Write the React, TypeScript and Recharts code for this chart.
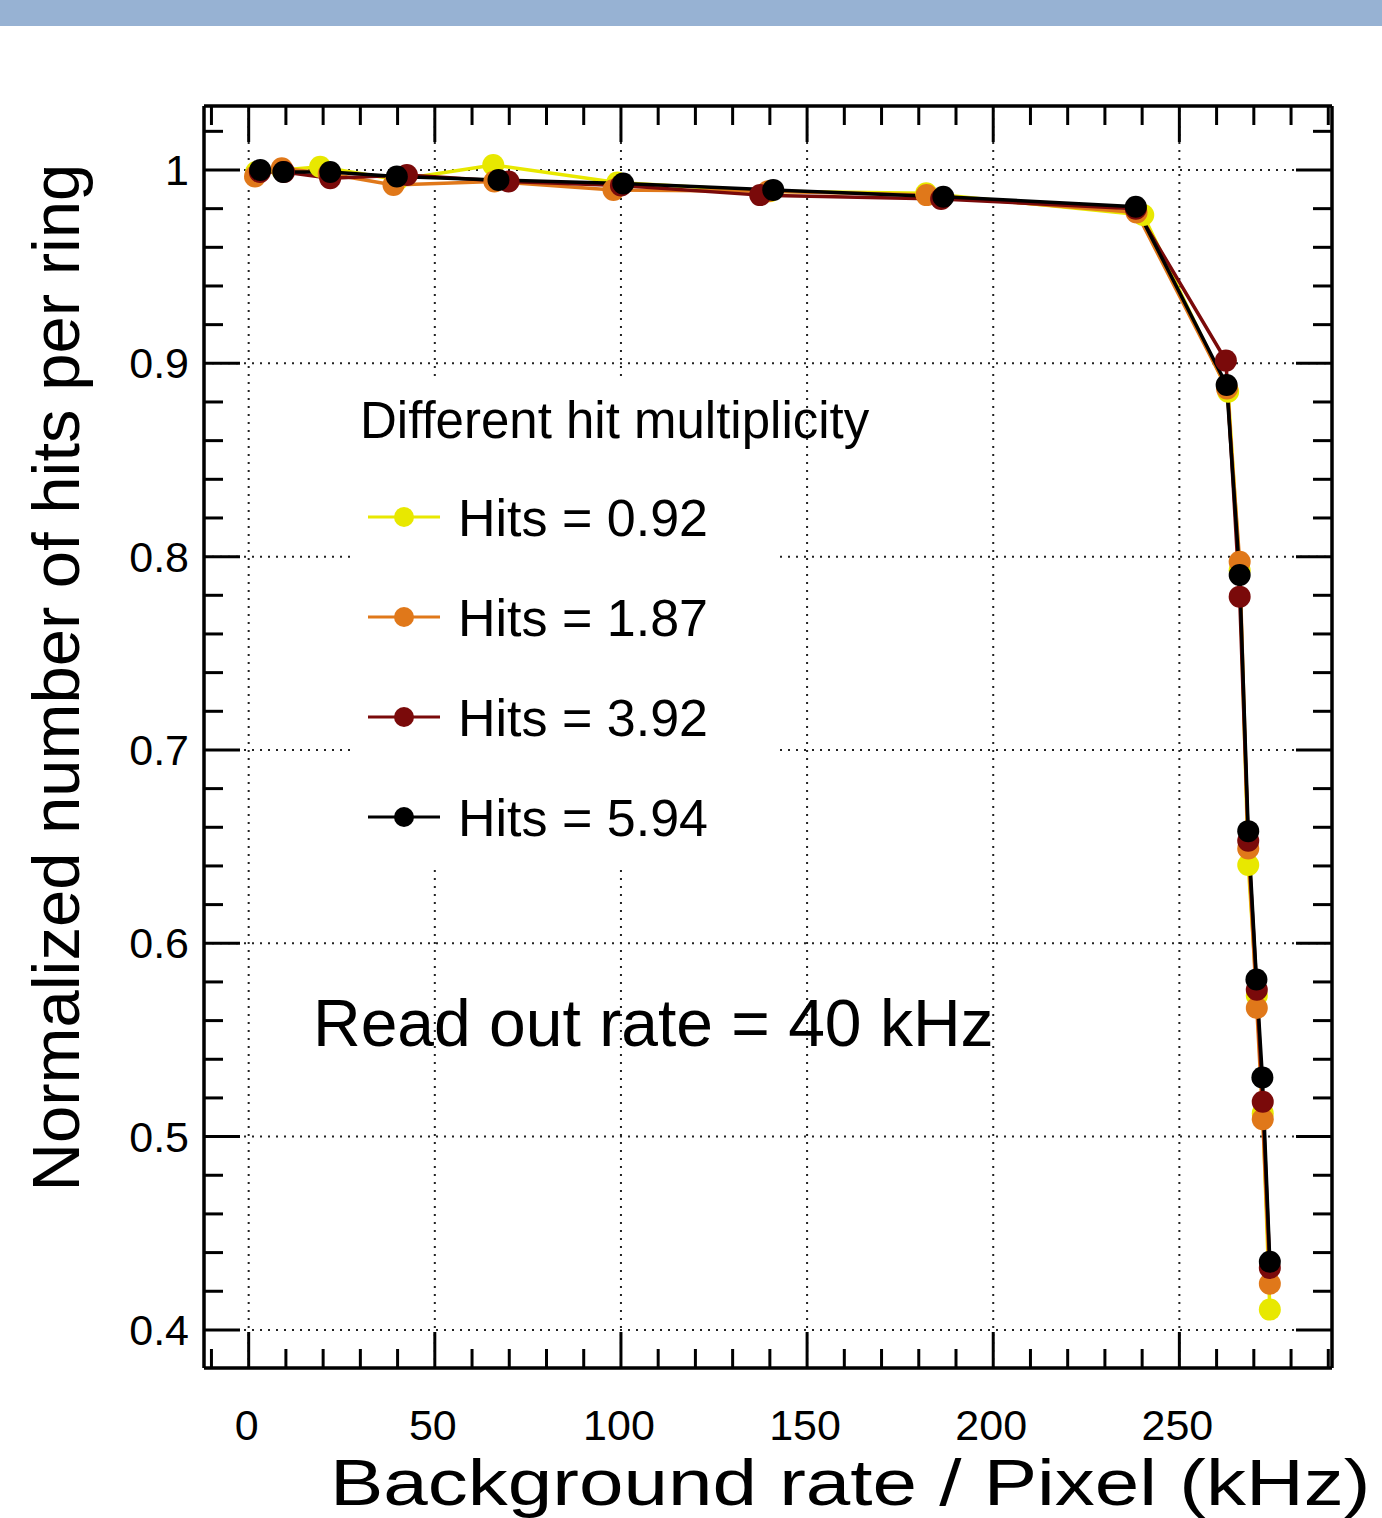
import React from 'react';
import { LineChart, Line, XAxis, YAxis, ReferenceLine, Legend } from 'recharts';

const FONT = '"Liberation Sans", Arial, Helvetica, sans-serif';

// ---- axis ticks ----
const xTicks = [-10, 0, 10, 20, 30, 40, 50, 60, 70, 80, 90, 100, 110, 120, 130, 140, 150, 160, 170, 180, 190, 200, 210, 220, 230, 240, 250, 260, 270, 280, 290];
const xMajor = [0, 50, 100, 150, 200, 250];
const yTicks = [0.4, 0.42, 0.44, 0.46, 0.48, 0.5, 0.52, 0.54, 0.56, 0.58, 0.6, 0.62, 0.64, 0.66, 0.68, 0.7, 0.72, 0.74, 0.76, 0.78, 0.8, 0.82, 0.84, 0.86, 0.88, 0.9, 0.92, 0.94, 0.96, 0.98, 1.0, 1.02];
const yMajor = [0.4, 0.5, 0.6, 0.7, 0.8, 0.9, 1.0];
const yMajorLabels = ['0.4', '0.5', '0.6', '0.7', '0.8', '0.9', '1'];
const xDomain = [-12, 291];
const yDomain = [0.3803, 1.0331];

// ---- series ----
const seriesNames = ['Hits = 0.92', 'Hits = 1.87', 'Hits = 3.92', 'Hits = 5.94'];
const seriesColors = ['#e8e800', '#e0781a', '#7a0a0a', '#000000'];

const xHits092 = [2.0, 9.0, 19.2, 40.0, 65.7, 99.0, 140.0, 182.0, 240.3, 263.1, 266.2, 268.5, 270.8, 272.4, 274.3];
const yHits092 = [0.999, 1.0, 1.0017, 0.995, 1.0026, 0.9935, 0.989, 0.988, 0.9767, 0.8853, 0.793, 0.6405, 0.573, 0.512, 0.4105];

const xHits187 = [1.7, 8.9, 21.5, 38.9, 66.0, 98.0, 139.5, 182.1, 238.5, 262.8, 266.2, 268.5, 270.8, 272.4, 274.3];
const yHits187 = [0.9966, 1.0009, 0.998, 0.9922, 0.994, 0.9897, 0.989, 0.987, 0.978, 0.887, 0.7974, 0.649, 0.5665, 0.509, 0.4239];

const xHits392 = [3.0, 9.5, 21.9, 42.5, 69.8, 100.0, 137.4, 186.0, 238.3, 262.5, 266.2, 268.5, 270.8, 272.4, 274.3];
const yHits392 = [0.999, 0.999, 0.9957, 0.9974, 0.994, 0.992, 0.987, 0.985, 0.98, 0.9014, 0.7793, 0.653, 0.576, 0.518, 0.432];

const xHits594 = [3.1, 9.3, 21.9, 39.8, 67.1, 100.6, 140.9, 186.6, 238.3, 262.7, 266.2, 268.5, 270.7, 272.3, 274.3];
const yHits594 = [1.0, 0.999, 0.999, 0.9966, 0.9948, 0.993, 0.9897, 0.9862, 0.981, 0.8888, 0.7905, 0.658, 0.5813, 0.5306, 0.4352];

const legendTitle = 'Different hit multiplicity';
const annotation = 'Read out rate = 40 kHz';
const xTitle = 'Background rate / Pixel (kHz)';
const yTitle = 'Normalized number of hits per ring';

const zip = (xs: number[], ys: number[]) => xs.map((x, i) => ({ x, y: ys[i] }));
const seriesData = [
  zip(xHits092, yHits092),
  zip(xHits187, yHits187),
  zip(xHits392, yHits392),
  zip(xHits594, yHits594),
];

const isMajor = (v: number, majors: number[]) => majors.some((m) => Math.abs(m - v) < 1e-6);
const MAJOR_LEN = 36;
const MINOR_LEN = 19;
const TICK_W = 3;
const TICK_FONT = 43;

const bottomTick = (p: any) => {
  const { x, y, payload } = p;
  const major = isMajor(payload.value, xMajor);
  return (
    <g>
      <line x1={x} y1={y} x2={x} y2={y - (major ? MAJOR_LEN : MINOR_LEN)} stroke="#000" strokeWidth={TICK_W} />
      {major && (
        <text x={x - 2} y={y + 72} textAnchor="middle" fontSize={TICK_FONT} fontFamily={FONT} fill="#000">
          {String(payload.value)}
        </text>
      )}
    </g>
  );
};

const topTick = (p: any) => {
  const { x, y, payload } = p;
  const major = isMajor(payload.value, xMajor);
  return <line x1={x} y1={y} x2={x} y2={y + (major ? MAJOR_LEN : MINOR_LEN)} stroke="#000" strokeWidth={TICK_W} />;
};

const leftTick = (p: any) => {
  const { x, y, payload } = p;
  const idx = yMajor.findIndex((m) => Math.abs(m - payload.value) < 1e-6);
  const major = idx >= 0;
  return (
    <g>
      <line x1={x} y1={y} x2={x + (major ? MAJOR_LEN : MINOR_LEN)} y2={y} stroke="#000" strokeWidth={TICK_W} />
      {major && (
        <text x={x - 15} y={y + 15} textAnchor="end" fontSize={TICK_FONT} fontFamily={FONT} fill="#000">
          {yMajorLabels[idx]}
        </text>
      )}
    </g>
  );
};

const rightTick = (p: any) => {
  const { x, y, payload } = p;
  const major = isMajor(payload.value, yMajor);
  return <line x1={x} y1={y} x2={x - (major ? MAJOR_LEN : MINOR_LEN)} y2={y} stroke="#000" strokeWidth={TICK_W} />;
};

const renderLegend = () => (
  <div style={{ position: 'relative', width: 430, height: 487, background: '#fff', fontFamily: FONT, color: '#000' }}>
    <div style={{ position: 'absolute', left: 10, top: 17, fontSize: 51, lineHeight: '51px', whiteSpace: 'nowrap' }}>
      {legendTitle}
    </div>
    {seriesNames.map((name, i) => {
      const cy = 139 + i * 100;
      return (
        <React.Fragment key={name}>
          <svg style={{ position: 'absolute', left: 16, top: cy - 15 }} width={76} height={30}>
            <line x1={2} y1={15} x2={74} y2={15} stroke={seriesColors[i]} strokeWidth={3} />
            <circle cx={38} cy={15} r={10} fill={seriesColors[i]} />
          </svg>
          <div style={{ position: 'absolute', left: 108, top: cy - 25.5, fontSize: 52, lineHeight: '52px', whiteSpace: 'nowrap' }}>
            {name}
          </div>
        </React.Fragment>
      );
    })}
  </div>
);

const axisLineStyle = { stroke: '#000', strokeWidth: 3.5 };

export default function App() {
  return (
    <div style={{ position: 'absolute', left: 0, top: 0, width: 1382, height: 1518, background: '#fff', fontFamily: FONT, overflow: 'hidden' }}>
      <div style={{ position: 'absolute', left: 0, top: 0, width: 1382, height: 26, background: '#97b2d3' }} />
      <LineChart width={1382} height={1518} margin={{ top: 105, right: 49, bottom: 149, left: 203 }}>
        <XAxis
          xAxisId="b"
          orientation="bottom"
          type="number"
          dataKey="x"
          domain={xDomain}
          allowDataOverflow
          ticks={xTicks}
          interval={0}
          tickSize={0}
          tickMargin={0}
          tick={bottomTick}
          tickLine={false}
          axisLine={axisLineStyle}
          height={1}
        />
        <XAxis
          xAxisId="t"
          orientation="top"
          type="number"
          dataKey="x"
          domain={xDomain}
          allowDataOverflow
          ticks={xTicks}
          interval={0}
          tickSize={0}
          tickMargin={0}
          tick={topTick}
          tickLine={false}
          axisLine={axisLineStyle}
          height={1}
        />
        <YAxis
          yAxisId="l"
          orientation="left"
          type="number"
          domain={yDomain}
          allowDataOverflow
          ticks={yTicks}
          interval={0}
          tickSize={0}
          tickMargin={0}
          tick={leftTick}
          tickLine={false}
          axisLine={axisLineStyle}
          width={1}
        />
        <YAxis
          yAxisId="r"
          orientation="right"
          type="number"
          domain={yDomain}
          allowDataOverflow
          ticks={yTicks}
          interval={0}
          tickSize={0}
          tickMargin={0}
          tick={rightTick}
          tickLine={false}
          axisLine={axisLineStyle}
          width={1}
        />
        {xMajor.map((v) => (
          <ReferenceLine key={'gx' + v} xAxisId="b" yAxisId="l" x={v} stroke="#222" strokeWidth={2} strokeDasharray="2 6" />
        ))}
        {yMajor.map((v) => (
          <ReferenceLine key={'gy' + v} xAxisId="b" yAxisId="l" y={v} stroke="#222" strokeWidth={2} strokeDasharray="2 6" />
        ))}
        {seriesData.map((d, i) => (
          <Line
            key={seriesNames[i]}
            xAxisId="b"
            yAxisId="l"
            data={d}
            dataKey="y"
            name={seriesNames[i]}
            type="linear"
            stroke={seriesColors[i]}
            strokeWidth={3.5}
            dot={{ r: 11, fill: seriesColors[i], stroke: 'none' }}
            activeDot={false}
            isAnimationActive={false}
          />
        ))}
        <Legend
          layout="vertical"
          align="center"
          verticalAlign="middle"
          content={renderLegend}
          wrapperStyle={{ position: 'absolute', left: 350, top: 378, width: 430, height: 487 }}
        />
      </LineChart>
      <div style={{ position: 'absolute', left: 313, top: 990, fontSize: 66, lineHeight: '66px', whiteSpace: 'nowrap', color: '#000' }}>
        {annotation}
      </div>
      <div
        style={{
          position: 'absolute',
          left: 330,
          top: 1451,
          fontSize: 64,
          lineHeight: '64px',
          whiteSpace: 'nowrap',
          color: '#000',
          transformOrigin: 'left top',
          transform: 'scaleX(1.25)',
        }}
      >
        {xTitle}
      </div>
      <div
        style={{
          position: 'absolute',
          left: 54.8 - 560,
          top: 677 - 33.5,
          width: 1120,
          height: 67,
          fontSize: 67,
          lineHeight: '67px',
          textAlign: 'center',
          whiteSpace: 'nowrap',
          color: '#000',
          transform: 'rotate(-90deg)',
        }}
      >
        {yTitle}
      </div>
    </div>
  );
}
